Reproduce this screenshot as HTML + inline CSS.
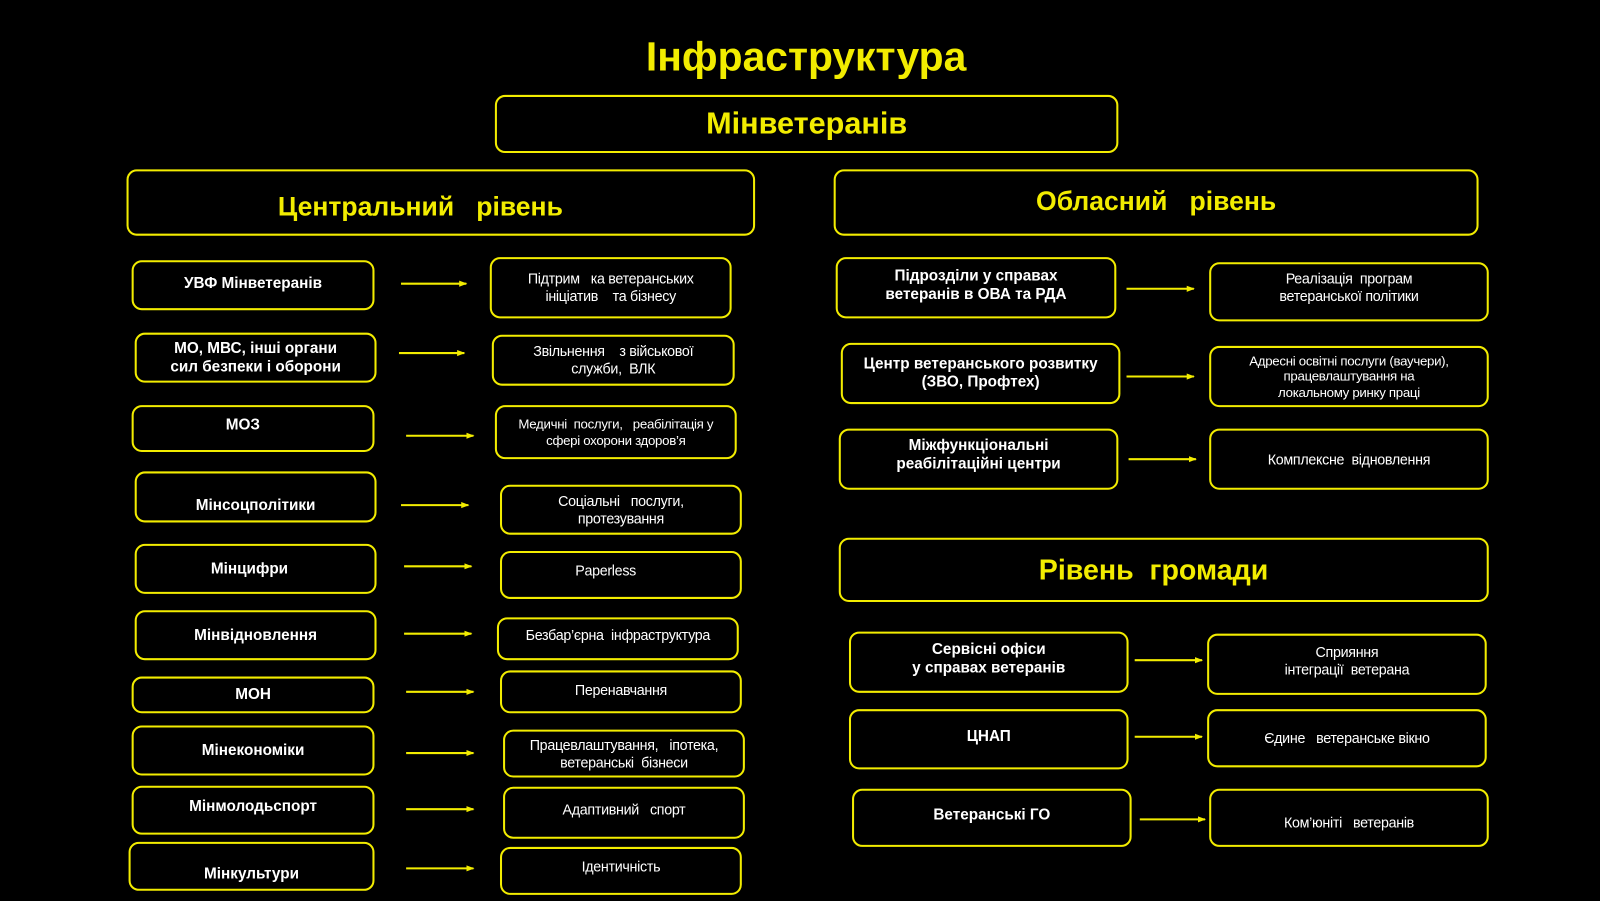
<!DOCTYPE html>
<html><head><meta charset="utf-8">
<style>
html,body{margin:0;padding:0;background:#000;width:1600px;height:901px;overflow:hidden}
#w{position:absolute;left:0;top:0;width:1568px;height:883px;transform:scale(1.0204);transform-origin:0 0;font-family:"Liberation Sans","DejaVu Sans",sans-serif}
.b{position:absolute;box-sizing:border-box;border:2px solid #f2ec00;border-radius:10px;display:flex;align-items:center;justify-content:center;text-align:center;color:#fff;line-height:1.2}
.l{font-weight:bold;font-size:15px}
.r{font-size:14px;letter-spacing:-0.3px}
.h{color:#f2ec00;font-weight:bold}
.t{position:absolute;color:#f2ec00;font-weight:bold;text-align:center}
svg{position:absolute;left:0;top:0}
</style></head><body><div id="w">
<div class="t" style="left:0;width:1580px;top:34px;font-size:40px">Інфраструктура</div>
<div class="b h" style="left:485px;top:93px;width:611px;height:57px;font-size:30px">Мінветеранів</div>
<div class="b h" style="left:124px;top:166px;width:616px;height:65px;font-size:26px;padding-top:8px;padding-right:40px">Центральний&nbsp;&nbsp; рівень</div>
<div class="b h" style="left:817px;top:166px;width:632px;height:65px;font-size:26px;padding-bottom:2px">Обласний&nbsp;&nbsp; рівень</div>
<div class="b h" style="left:822px;top:527px;width:637px;height:63px;font-size:28px;padding-right:20px">Рівень&nbsp; громади</div>

<div class="b l" style="left:129px;top:255px;width:238px;height:49px;padding-bottom:4px">УВФ Мінветеранів</div>
<div class="b r" style="left:480px;top:252px;width:237px;height:60px">Підтрим&nbsp;&nbsp; ка ветеранських<br>ініціатив&nbsp;&nbsp;&nbsp; та бізнесу</div>
<div class="b l" style="left:132px;top:326px;width:237px;height:49px">МО, МВС, інші органи<br>сил безпеки і оборони</div>
<div class="b r" style="left:482px;top:328px;width:238px;height:50px">Звільнення&nbsp;&nbsp;&nbsp; з військової<br>служби,&nbsp; ВЛК</div>
<div class="b l" style="left:129px;top:397px;width:238px;height:46px;padding-bottom:6px;padding-right:20px">МОЗ</div>
<div class="b r" style="left:485px;top:397px;width:237px;height:53px;font-size:13px">Медичні&nbsp; послуги,&nbsp;&nbsp; реабілітація у<br>сфері охорони здоров’я</div>
<div class="b l" style="left:132px;top:462px;width:237px;height:50px;padding-top:18px">Мінсоцполітики</div>
<div class="b r" style="left:490px;top:475px;width:237px;height:49px">Соціальні&nbsp;&nbsp; послуги,<br>протезування</div>
<div class="b l" style="left:132px;top:533px;width:237px;height:49px;padding-right:12px">Мінцифри</div>
<div class="b r" style="left:490px;top:540px;width:237px;height:47px;padding-bottom:8px;padding-right:30px">Paperless</div>
<div class="b l" style="left:132px;top:598px;width:237px;height:49px">Мінвідновлення</div>
<div class="b r" style="left:487px;top:605px;width:237px;height:42px;padding-bottom:8px">Безбар’єрна&nbsp; інфраструктура</div>
<div class="b l" style="left:129px;top:663px;width:238px;height:36px">МОН</div>
<div class="b r" style="left:490px;top:657px;width:237px;height:42px;padding-bottom:4px">Перенавчання</div>
<div class="b l" style="left:129px;top:711px;width:238px;height:49px">Мінекономіки</div>
<div class="b r" style="left:493px;top:715px;width:237px;height:47px">Працевлаштування,&nbsp;&nbsp; іпотека,<br>ветеранські&nbsp; бізнеси</div>
<div class="b l" style="left:129px;top:770px;width:238px;height:48px;padding-bottom:6px">Мінмолодьспорт</div>
<div class="b r" style="left:493px;top:771px;width:237px;height:51px;padding-bottom:6px">Адаптивний&nbsp;&nbsp; спорт</div>
<div class="b l" style="left:126px;top:825px;width:241px;height:48px;padding-top:16px">Мінкультури</div>
<div class="b r" style="left:490px;top:830px;width:237px;height:47px;padding-bottom:8px">Ідентичність</div>

<div class="b l" style="left:819px;top:252px;width:275px;height:60px;padding-bottom:4px">Підрозділи у справах<br>ветеранів в ОВА та РДА</div>
<div class="b r" style="left:1185px;top:257px;width:274px;height:58px;padding-bottom:8px">Реалізація&nbsp; програм<br>ветеранської політики</div>
<div class="b l" style="left:824px;top:336px;width:274px;height:60px">Центр ветеранського розвитку<br>(ЗВО, Профтех)</div>
<div class="b r" style="left:1185px;top:339px;width:274px;height:60px;font-size:13px">Адресні освітні послуги (ваучери),<br>працевлаштування на<br>локальному ринку праці</div>
<div class="b l" style="left:822px;top:420px;width:274px;height:60px;padding-bottom:8px">Міжфункціональні<br>реабілітаційні центри</div>
<div class="b r" style="left:1185px;top:420px;width:274px;height:60px">Комплексне&nbsp; відновлення</div>

<div class="b l" style="left:832px;top:619px;width:274px;height:60px;padding-bottom:6px">Сервісні офіси<br>у справах ветеранів</div>
<div class="b r" style="left:1183px;top:621px;width:274px;height:60px;padding-bottom:6px">Сприяння<br>інтеграції&nbsp; ветерана</div>
<div class="b l" style="left:832px;top:695px;width:274px;height:59px;padding-bottom:6px">ЦНАП</div>
<div class="b r" style="left:1183px;top:695px;width:274px;height:57px">Єдине&nbsp;&nbsp; ветеранське вікно</div>
<div class="b l" style="left:835px;top:773px;width:274px;height:57px;padding-bottom:6px">Ветеранські ГО</div>
<div class="b r" style="left:1185px;top:773px;width:274px;height:57px;padding-top:10px">Ком’юніті&nbsp;&nbsp; ветеранів</div>

<svg width="1568" height="883">
<defs><marker id="a" markerWidth="8" markerHeight="8" refX="7" refY="4" orient="auto" markerUnits="userSpaceOnUse"><path d="M0,1 L8,4 L0,7 Z" fill="#f2ec00"/></marker></defs>
<g stroke="#f2ec00" stroke-width="2" marker-end="url(#a)">
<line x1="393" y1="278" x2="457" y2="278"/>
<line x1="391" y1="346" x2="455" y2="346"/>
<line x1="398" y1="427" x2="464" y2="427"/>
<line x1="393" y1="495" x2="459" y2="495"/>
<line x1="396" y1="555" x2="462" y2="555"/>
<line x1="396" y1="621" x2="462" y2="621"/>
<line x1="398" y1="678" x2="464" y2="678"/>
<line x1="398" y1="738" x2="464" y2="738"/>
<line x1="398" y1="793" x2="464" y2="793"/>
<line x1="398" y1="851" x2="464" y2="851"/>
<line x1="1104" y1="283" x2="1170" y2="283"/>
<line x1="1104" y1="369" x2="1170" y2="369"/>
<line x1="1106" y1="450" x2="1172" y2="450"/>
<line x1="1112" y1="647" x2="1178" y2="647"/>
<line x1="1112" y1="722" x2="1178" y2="722"/>
<line x1="1117" y1="803" x2="1181" y2="803"/>
</g></svg>
</div></body></html>
